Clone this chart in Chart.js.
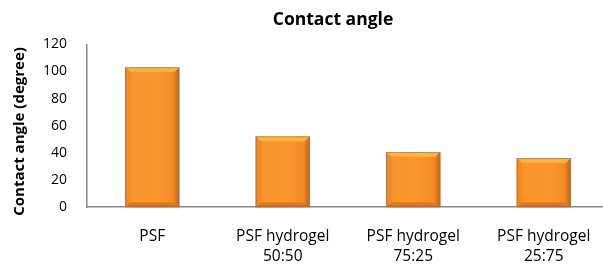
<!DOCTYPE html>
<html>
<head>
<meta charset="utf-8">
<script src="https://cdn.jsdelivr.net/npm/chart.js@4/dist/chart.umd.min.js"></script>
<style>
  body { margin: 0; background: #fff; overflow: hidden; }
  #wrap { width: 666px; height: 264px; }
</style>
</head>
<body>
<div id="wrap"><canvas id="angleChart" width="666" height="264"></canvas></div>
<script>
// data
const categories = ['PSF', ['PSF hydrogel', '50:50'], ['PSF hydrogel', '75:25'], ['PSF hydrogel', '25:75']];
const angleValues = [103, 52, 40.5, 36];
const yTicks = [0, 20, 40, 60, 80, 100, 120];

const axisGrey = '#878787';

// bevelled look of the excel bars, painted on top of the library's bars
const bevelPlugin = {
  id: 'bevel',
  afterDatasetsDraw(chart) {
    const ctx = chart.ctx;
    const meta = chart.getDatasetMeta(0);
    meta.data.forEach(bar => {
      const l = bar.x - bar.width / 2;
      const r = bar.x + bar.width / 2;
      const t = bar.y;
      const b = bar.base;
      const bv = 5;
      ctx.save();

      // body
      let g = ctx.createLinearGradient(l, 0, r, 0);
      g.addColorStop(0, '#ee8a26');
      g.addColorStop(0.15, '#f8952c');
      g.addColorStop(0.6, '#f9972e');
      g.addColorStop(1, '#ec8523');
      ctx.fillStyle = g;
      ctx.fillRect(l, t, r - l, b - t);

      // top bevel
      g = ctx.createLinearGradient(0, t, 0, t + bv);
      g.addColorStop(0, '#ffc54f');
      g.addColorStop(1, '#ffa636');
      ctx.fillStyle = g;
      ctx.beginPath();
      ctx.moveTo(l, t); ctx.lineTo(r, t); ctx.lineTo(r - bv, t + bv); ctx.lineTo(l + bv, t + bv);
      ctx.closePath(); ctx.fill();

      // left bevel
      ctx.fillStyle = '#f0892a';
      ctx.beginPath();
      ctx.moveTo(l, t); ctx.lineTo(l + bv, t + bv); ctx.lineTo(l + bv, b - bv); ctx.lineTo(l, b);
      ctx.closePath(); ctx.fill();

      // right bevel
      g = ctx.createLinearGradient(r - bv, 0, r, 0);
      g.addColorStop(0, '#e47e1f');
      g.addColorStop(1, '#c6651a');
      ctx.fillStyle = g;
      ctx.beginPath();
      ctx.moveTo(r, t); ctx.lineTo(r - bv, t + bv); ctx.lineTo(r - bv, b - bv); ctx.lineTo(r, b);
      ctx.closePath(); ctx.fill();

      // bottom bevel
      g = ctx.createLinearGradient(0, b - bv, 0, b);
      g.addColorStop(0, '#e98322');
      g.addColorStop(1, '#cb6a1b');
      ctx.fillStyle = g;
      ctx.beginPath();
      ctx.moveTo(l, b); ctx.lineTo(r, b); ctx.lineTo(r - bv, b - bv); ctx.lineTo(l + bv, b - bv);
      ctx.closePath(); ctx.fill();

      // thin greyish outline
      ctx.strokeStyle = 'rgba(140,120,100,0.7)';
      ctx.lineWidth = 1;
      ctx.strokeRect(l + 0.5, t + 0.5, r - l - 1, b - t - 0.5);
      ctx.restore();
    });
  }
};

new Chart(document.getElementById('angleChart'), {
  type: 'bar',
  data: {
    labels: categories,
    datasets: [{
      label: 'Contact angle',
      data: angleValues,
      backgroundColor: '#f7941d',
      borderWidth: 0,
      barPercentage: 0.414,
      categoryPercentage: 1
    }]
  },
  options: {
    responsive: false,
    animation: false,
    layout: { padding: 0 },
    plugins: {
      legend: { display: false },
      tooltip: { enabled: false },
      title: {
        display: true,
        text: 'Contact angle',
        color: '#000',
        font: { family: 'Open Sans', size: 17.5, weight: 'bold', lineHeight: 1.2 },
        padding: { top: 9.3, bottom: 14 }
      }
    },
    scales: {
      x: {
        grid: { display: false, drawTicks: false },
        border: { display: true, color: axisGrey, width: 1.5 },
        ticks: {
          color: '#000',
          padding: 20,
          maxRotation: 0,
          autoSkip: false,
          font: { family: 'Open Sans', size: 15.5, lineHeight: 1.29 }
        },
        afterFit(scale) { scale.height = 57; }
      },
      y: {
        min: 0,
        max: 120,
        afterBuildTicks(scale) { scale.ticks = yTicks.map(v => ({ value: v })); },
        grid: { display: false, drawTicks: false },
        border: { display: true, color: axisGrey, width: 1.5 },
        ticks: {
          color: '#000',
          padding: 20,
          font: { family: 'Open Sans', size: 14 }
        },
        title: {
          display: true,
          text: 'Contact angle (degree)   ',
          color: '#000',
          font: { family: 'Open Sans', size: 15, weight: 'bold', lineHeight: 1.2 },
          padding: { top: 11, bottom: 0 }
        },
        afterFit(scale) { scale.width = 87; }
      },
      // empty right-hand spacer so the plot runs past the picture edge
      spacer: {
        type: 'linear',
        position: 'right',
        grid: { display: false, drawTicks: false },
        border: { display: false },
        ticks: { display: false },
        afterFit(scale) { scale.width = 57; }
      }
    }
  },
  plugins: [bevelPlugin]
});
</script>
</body>
</html>
